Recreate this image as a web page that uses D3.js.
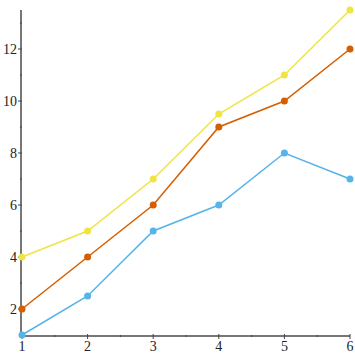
<!DOCTYPE html>
<html><head><meta charset="utf-8">
<script src="https://cdn.jsdelivr.net/npm/d3@7"></script>
<style>body{margin:0;background:#fff}svg{display:block}</style>
</head><body>
<script>
const xs = [1, 2, 3, 4, 5, 6];
const blue = [1, 2.5, 5, 6, 8, 7];
const orange = [2, 4, 6, 9, 10, 12];
const yellow = [4, 5, 7, 9.5, 11, 13.5];
const yMajor = [2, 4, 6, 8, 10, 12];
const yMinor = [3, 5, 7, 9, 11, 13];
const xMajor = [1, 2, 3, 4, 5, 6];
const xMinor = [1.5, 2.5, 3.5, 4.5, 5.5];
const series = [
  {name: "blue", values: blue, color: "#56B4E9"},
  {name: "orange", values: orange, color: "#D55E00"},
  {name: "yellow", values: yellow, color: "#F0E442"}
];

const W = 355, H = 355;
const svg = d3.select("body").append("svg").attr("width", W).attr("height", H);
const x = d3.scaleLinear().domain([1, 6]).range([22, 350]);
const y = d3.scaleLinear().domain([1, 13.5]).range([335, 10]);
const axisColor = "#777";
const font = "'Liberation Serif', 'Times New Roman', serif";

// axes lines
svg.append("line").attr("x1", x(1) - 1).attr("x2", x(1) - 1).attr("y1", y(13.5)).attr("y2", y(1) + 1)
  .attr("stroke", axisColor).attr("stroke-width", 2);
svg.append("line").attr("x1", x(1) - 1).attr("x2", x(6)).attr("y1", y(1) + 1).attr("y2", y(1) + 1)
  .attr("stroke", axisColor).attr("stroke-width", 2);

// y ticks
const gy = svg.append("g");
gy.selectAll(".maj").data(yMajor).join("line")
  .attr("x1", x(1) - 4).attr("x2", x(1)).attr("y1", d => y(d)).attr("y2", d => y(d))
  .attr("stroke", "#444").attr("stroke-width", 1);
gy.selectAll(".min").data(yMinor).join("line")
  .attr("x1", x(1) - 2).attr("x2", x(1)).attr("y1", d => y(d)).attr("y2", d => y(d))
  .attr("stroke", "#444").attr("stroke-width", 1);
gy.selectAll("text").data(yMajor).join("text")
  .attr("x", x(1) - 5).attr("y", d => y(d)).attr("dy", "0.35em")
  .attr("text-anchor", "end").attr("font-family", font).attr("font-size", 14).attr("fill", "#222")
  .text(d => d);

// x ticks
const gx = svg.append("g");
gx.selectAll(".maj").data(xMajor).join("line")
  .attr("x1", d => x(d)).attr("x2", d => x(d)).attr("y1", y(1) - 1).attr("y2", y(1) + 4)
  .attr("stroke", "#444").attr("stroke-width", 1);
gx.selectAll(".min").data(xMinor).join("line")
  .attr("x1", d => x(d)).attr("x2", d => x(d)).attr("y1", y(1)).attr("y2", y(1) + 2)
  .attr("stroke", "#444").attr("stroke-width", 1);
gx.selectAll("text").data(xMajor).join("text")
  .attr("x", d => x(d)).attr("y", y(1) + 16)
  .attr("text-anchor", "middle").attr("font-family", font).attr("font-size", 14).attr("fill", "#222")
  .text(d => d);

const line = d3.line().x((d, i) => x(xs[i])).y(d => y(d));
series.forEach(s => {
  const g = svg.append("g");
  g.append("path").attr("d", line(s.values)).attr("fill", "none")
    .attr("stroke", s.color).attr("stroke-width", 1.5);
  g.selectAll("circle").data(s.values).join("circle")
    .attr("cx", (d, i) => x(xs[i])).attr("cy", d => y(d)).attr("r", 3.5).attr("fill", s.color);
});
</script>
</body></html>
